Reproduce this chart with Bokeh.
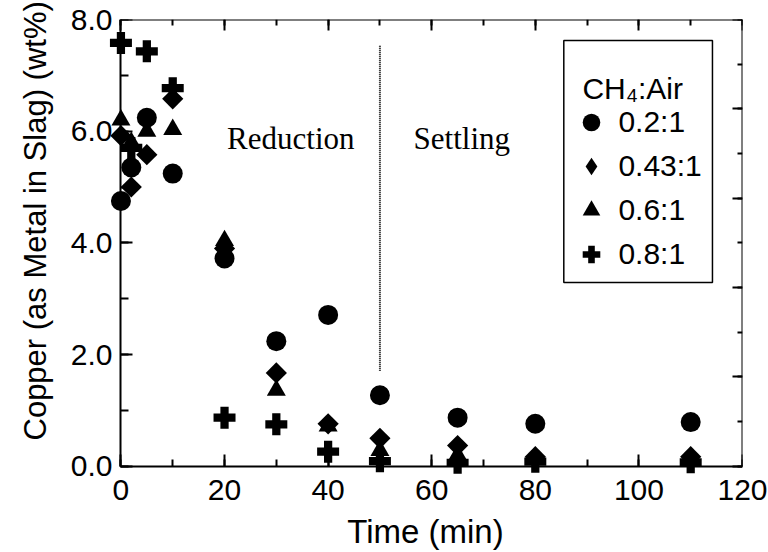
from bokeh.plotting import figure
from bokeh.models import (Range1d, LinearAxis, SingleIntervalTicker, PrintfTickFormatter,
                          CustomJSTickFormatter, Legend, LegendItem, Label, BoxAnnotation, Title)
from bokeh.embed import file_html
from bokeh.resources import INLINE
import math

# ---------------- data ----------------
time_min = [0, 2, 5, 10, 20, 30, 40, 50, 65, 80, 110]
cu_ratio_02 = [4.75, 5.35, 6.24, 5.24, 3.72, 2.24, 2.71, 1.27, 0.87, 0.76, 0.79]
cu_ratio_043 = [5.92, 5.00, 5.58, 6.58, 3.90, 1.67, 0.76, 0.50, 0.37, 0.17, 0.17]
cu_ratio_06 = [6.20, 5.80, 6.00, 6.03, 4.04, 1.36, 0.72, 0.28, 0.20, 0.15, 0.15]
cu_ratio_08 = [7.58, 5.70, 7.43, 6.77, 0.87, 0.75, 0.26, 0.09, 0.06, 0.08, 0.07]
series_labels = ["0.2:1", "0.43:1", "0.6:1", "0.8:1"]
legend_title = "CH\u2084:Air"
x_title = "Time (min)"
y_title = "Copper (as Metal in Slag) (wt%)"
stage_labels = ["Reduction", "Settling"]
divider_time = [50]
divider_low = [1.71]
divider_high = [7.55]

SANS = "Liberation Sans"
SERIF = "Liberation Serif"

p = figure(width=768, height=552, output_backend="svg", toolbar_location=None,
           x_range=Range1d(-2.4, 120), y_range=Range1d(-0.22, 8),
           x_axis_location=None, y_axis_location=None,
           min_border_left=108, min_border_right=26, min_border_top=19, min_border_bottom=74)
p.extra_y_ranges = {"right": Range1d(-0.275, 10)}
p.outline_line_color = None
p.background_fill_color = "white"
p.border_fill_color = "white"
for g in p.grid:
    g.visible = False


def style_ticks(ax, major_in, minor_in):
    ax.axis_line_color = "black"
    ax.axis_line_width = 2
    ax.major_tick_line_color = "black"
    ax.major_tick_line_width = 2
    ax.minor_tick_line_color = "black"
    ax.minor_tick_line_width = 2
    ax.major_tick_in = major_in
    ax.major_tick_out = 0
    ax.minor_tick_in = minor_in
    ax.minor_tick_out = 0


def style_labels(ax):
    ax.axis_line_color = None
    ax.major_tick_line_color = None
    ax.minor_tick_line_color = None
    ax.major_tick_in = 0
    ax.major_tick_out = 0
    ax.minor_tick_in = 0
    ax.minor_tick_out = 0
    ax.major_label_text_font = SANS
    ax.major_label_text_font_size = "30px"
    ax.major_label_text_color = "black"
    ax.axis_label_text_font = SANS
    ax.axis_label_text_font_size = "33px"
    ax.axis_label_text_font_style = "normal"
    ax.axis_label_text_color = "black"


y_ticker = SingleIntervalTicker(interval=2, num_minor_ticks=2)
x_ticker = SingleIntervalTicker(interval=20, num_minor_ticks=2)

# label-only axes in the side panels
left_lab = LinearAxis(bounds=(0, 8), ticker=y_ticker,
                      formatter=PrintfTickFormatter(format="%.1f"))
style_labels(left_lab)
left_lab.major_label_standoff = -4
p.add_layout(left_lab, "left")

bottom_lab = LinearAxis(bounds=(0, 120), ticker=x_ticker, axis_label=x_title)
style_labels(bottom_lab)
bottom_lab.major_label_standoff = 1
bottom_lab.axis_label_standoff = 10
p.add_layout(bottom_lab, "below")

# tick/line axes drawn at the data edges
left = LinearAxis(fixed_location=0, bounds=(0, 8), ticker=y_ticker,
                  formatter=CustomJSTickFormatter(code="return ''"))
style_ticks(left, 12, 8)
p.add_layout(left, "left")

bottom = LinearAxis(fixed_location=0, bounds=(0, 120), ticker=x_ticker,
                    formatter=CustomJSTickFormatter(code="return ''"))
style_ticks(bottom, 12, 7)
p.add_layout(bottom, "below")

right = LinearAxis(fixed_location=120, bounds=(0, 10), y_range_name="right",
                   ticker=SingleIntervalTicker(interval=2, num_minor_ticks=2),
                   formatter=CustomJSTickFormatter(code="return ''"))
style_ticks(right, 10, 5)
p.add_layout(right, "right")

top = LinearAxis(fixed_location=8, bounds=(0, 120), ticker=x_ticker,
                 formatter=CustomJSTickFormatter(code="return ''"))
style_ticks(top, 11, 6)
p.add_layout(top, "above")

# y-axis title as a side title (allows an offset along the axis)
p.add_layout(Title(text=y_title, align="left", offset=38, standoff=30,
                   text_font=SANS, text_font_size="31px", text_font_style="normal",
                   text_color="black"), "left")

# divider line
p.segment(x0=divider_time, y0=divider_low, x1=divider_time, y1=divider_high,
          line_color="black", line_width=2, line_dash="1 1")

# data
r1 = p.scatter(time_min, cu_ratio_02, marker="circle", size=20, fill_color="black", line_color=None)
# narrow diamond used for the legend swatch, hidden beneath the rotated squares
r2_leg = p.scatter(time_min, cu_ratio_043, marker="diamond", size=18, fill_color="black", line_color=None)
r2 = p.scatter(time_min, cu_ratio_043, marker="square", angle=math.pi / 4, size=15,
               fill_color="black", line_color=None)
r3 = p.scatter(time_min, cu_ratio_06, marker="triangle", size=19, fill_color="black", line_color=None)
r4 = p.scatter(time_min, cu_ratio_08, marker="plus", size=22, fill_color="black", line_color=None)

# stage annotations
for txt, xx in zip(stage_labels, [20.5, 56.5]):
    p.add_layout(Label(x=xx, y=5.875, text=txt, text_font=SERIF, text_font_size="31px",
                       text_color="black", text_baseline="alphabetic", text_align="left"))

# legend frame + title + items
p.add_layout(BoxAnnotation(left=85.5, right=114.2, top=7.625, bottom=3.29,
                           fill_alpha=0, line_color="black", line_width=1.5, line_alpha=1))
p.add_layout(Label(x=89.1, y=6.77, text=legend_title, text_font=SANS, text_font_size="30px",
                   text_color="black", text_baseline="alphabetic", text_align="left"))

leg = Legend(items=[LegendItem(label=series_labels[0], renderers=[r1]),
                    LegendItem(label=series_labels[1], renderers=[r2_leg]),
                    LegendItem(label=series_labels[2], renderers=[r3]),
                    LegendItem(label=series_labels[3], renderers=[r4])],
             location=(459.4, 202.3), orientation="vertical",
             border_line_color=None, background_fill_alpha=0, padding=0, spacing=0, margin=0,
             glyph_width=48, glyph_height=44, label_standoff=3,
             label_text_font=SANS, label_text_font_size="30px", label_text_color="black")
p.add_layout(leg)

open("out.html", "w").write(file_html(p, INLINE))
